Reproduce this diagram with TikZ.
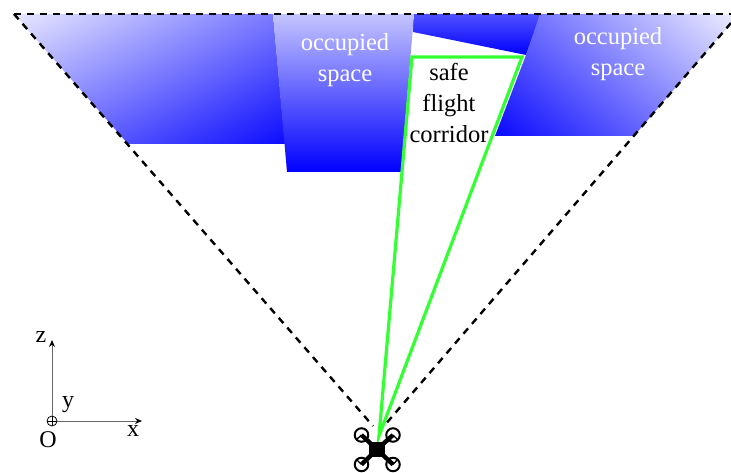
\documentclass[tikz,border=0pt]{standalone}
\usepackage{fontspec}
\setmainfont{Liberation Serif}
\usetikzlibrary{arrows.meta}
\definecolor{lightb}{RGB}{232,232,255}
\definecolor{midb}{RGB}{196,196,255}
\definecolor{topb}{RGB}{80,80,255}
\definecolor{purei}{RGB}{0,0,255}
\definecolor{safegreen}{RGB}{51,255,51}
\pgfdeclareverticalshading{leftgrad}{100bp}{color(0bp)=(purei); color(39bp)=(purei); color(60bp)=(lightb); color(100bp)=(lightb)}
\pgfdeclareverticalshading{rightgrad}{100bp}{color(0bp)=(purei); color(39bp)=(purei); color(60bp)=(lightb); color(100bp)=(lightb)}
\tikzset{
  lbl/.style={font=\fontsize{24.5}{31}\selectfont,align=center,inner sep=0pt},
  axlbl/.style={font=\fontsize{24}{24}\selectfont,inner sep=0pt},
  fov/.style={draw=black,line width=2.4pt,dash pattern=on 7pt off 6pt},
  axis/.style={draw=black!60,line width=1pt,-{Stealth[length=7pt,width=6pt,color=black]}},
  corridor/.style={draw=safegreen,line width=3.2pt,line join=miter},
  rotor/.style={draw=black,line width=2pt,circle,minimum size=13.5pt,inner sep=0pt},
  arm/.style={draw=black,line width=4.4pt},
  blade/.style={draw=black,line width=1.4pt}
}
\begin{document}
\begin{tikzpicture}[x=1pt,y=-1pt]
\useasboundingbox (0,0) rectangle (731,473);
% occupied regions
\begin{scope}
  \clip (14,14) -- (273,14) -- (285,144) -- (128,144) -- cycle;
  \shade[shading=leftgrad,shading angle=27] (-150,-221) rectangle (450,379);
\end{scope}
\begin{scope}
  \clip (414,14) -- (541,14) -- (526,55) -- (413,32) -- cycle;
  \shade[top color=topb,bottom color=purei] (410,14) rectangle (545,55);
\end{scope}
\begin{scope}
  \clip (540,14) -- (731,14) -- (731,23) -- (634,136) -- (495,136) -- (526,55) -- cycle;
  \shade[shading=rightgrad,shading angle=-40] (313,-225) rectangle (913,375);
\end{scope}
\shade[top color=midb,bottom color=purei] (273,14) -- (414,14) -- (401,172) -- (287,172) -- cycle;
% field of view
\coordinate (fovL) at (14,14);
\coordinate (fovR) at (731,14);
\coordinate (fovRb) at (731,23);
\coordinate (apexL) at (373,426);
\coordinate (apexR) at (384,426);
\draw[fov] (fovL) -- (fovR);
\draw[fov] (fovL) -- (apexL);
\draw[fov] (fovRb) -- (apexR);
% corridor
\coordinate (c1) at (412,57);
\coordinate (c2) at (522,57);
\coordinate (c3) at (379,436);
\draw[corridor] (c1) -- (c2) -- (c3) -- cycle;
% texts
\node[lbl,text=white] (occ1) at (345,60) {occupied\\space};
\node[lbl,text=white] (occ2) at (618,54) {occupied\\space};
\node[lbl,text=black] (safe) at (449,103) {safe\\flight\\corridor};
% axes
\node[draw=black,circle,line width=0.8pt,minimum size=10pt,inner sep=0pt] (O) at (52,421) {};
\draw[line width=0.8pt] (47,421) -- (57,421) (52,416) -- (52,426);
\coordinate (zend) at (52,340);
\coordinate (xend) at (142,421);
\draw[axis] (O.north) -- (zend);
\draw[axis] (O.east) -- (xend);
\node[axlbl] (lz) at (41,337) {z};
\node[axlbl] (ly) at (68,405) {y};
\node[axlbl] (lO) at (48,440) {O};
\node[axlbl] (lx) at (133,431) {x};
% drone
\begin{scope}
  \clip (340,400) rectangle (420,473);
  \node[rotor] (r1) at (361.5,435) {};
  \node[rotor] (r2) at (393,435) {};
  \node[rotor] (r3) at (361.5,464.5) {};
  \node[rotor] (r4) at (393,464.5) {};
  \fill[black] (369,442) rectangle (385,457);
  \draw[arm] (377,449.5) -- (r1.center);
  \draw[arm] (377,449.5) -- (r2.center);
  \draw[arm] (377,449.5) -- (r3.center);
  \draw[arm] (377,449.5) -- (r4.center);
  \draw[blade] (356,440) -- (r1.center);
  \draw[blade] (398,440) -- (r2.center);
  \draw[blade] (356,459) -- (r3.center);
  \draw[blade] (398,459) -- (r4.center);
\end{scope}
\end{tikzpicture}
\end{document}
